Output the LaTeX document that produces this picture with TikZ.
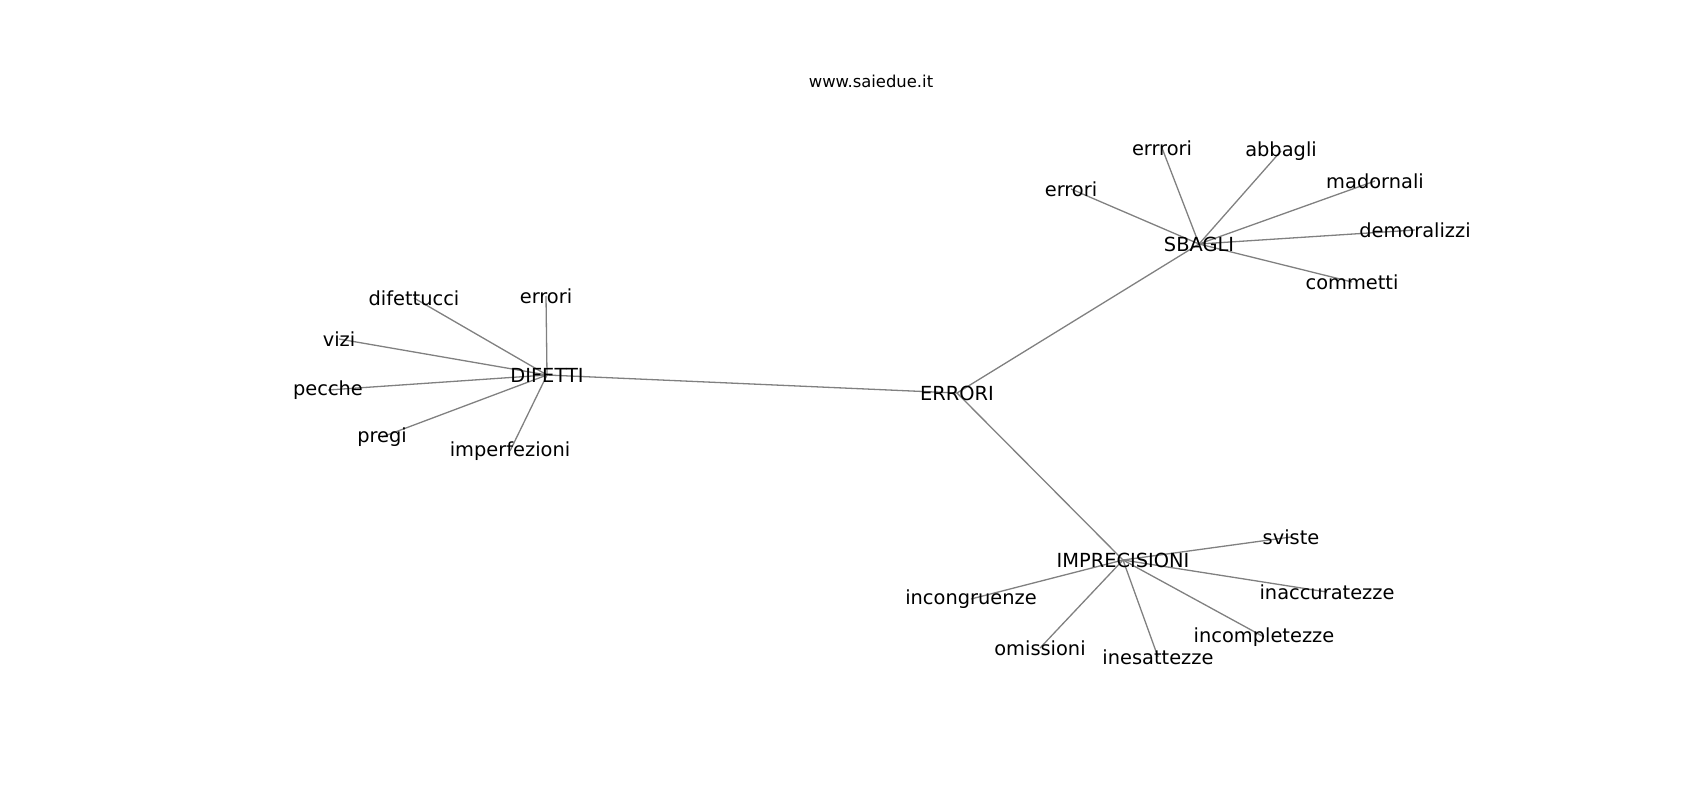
\documentclass[tikz,border=0pt]{standalone}
\usepackage{fontspec}
\setmainfont{DejaVu Sans}
\usetikzlibrary{backgrounds}

\begin{document}
\begin{tikzpicture}[x=1pt, y=-1pt, main/.style = {font=\fontsize{19.4}{22}\selectfont, inner sep=0pt}, edge/.style = {draw=gray, line width=1.3pt}]
    \useasboundingbox (0,0) rectangle (1700,800);

    \node[font=\fontsize{16.4}{19}\selectfont, inner sep=0pt] (title) at (871,81) {www.saiedue.it};

    \node[main] (errori) at (957,393) {ERRORI};
    \node[main] (difetti) at (547,375) {DIFETTI};
    \node[main] (sbagli) at (1199,244) {SBAGLI};
    \node[main] (imprecisioni) at (1123,560) {IMPRECISIONI};

    \node[main] (difettucci) at (414,298) {difettucci};
    \node[main] (erroriD) at (546,296) {errori};
    \node[main] (vizi) at (339,339) {vizi};
    \node[main] (pecche) at (328,390) {pecche};
    \node[main] (pregi) at (382,437) {pregi};
    \node[main] (imperfezioni) at (510,451) {imperfezioni};

    \node[main] (erroriS) at (1071,189) {errori};
    \node[main] (errrori) at (1162,148) {errrori};
    \node[main] (abbagli) at (1281,151) {abbagli};
    \node[main] (madornali) at (1375,181) {madornali};
    \node[main] (demoralizzi) at (1415,230) {demoralizzi};
    \node[main] (commetti) at (1352,282) {commetti};

    \node[main] (sviste) at (1291,537) {sviste};
    \node[main] (inaccuratezze) at (1327,592) {inaccuratezze};
    \node[main] (incompletezze) at (1264,637) {incompletezze};
    \node[main] (inesattezze) at (1158,657) {inesattezze};
    \node[main] (omissioni) at (1040,648) {omissioni};
    \node[main] (incongruenze) at (971,599) {incongruenze};

    \begin{scope}[on background layer]
    \draw[edge] (errori.center) -- (difetti.center);
    \draw[edge] (errori.center) -- (sbagli.center);
    \draw[edge] (errori.center) -- (imprecisioni.center);

    \draw[edge] (difetti.center) -- (difettucci.center);
    \draw[edge] (difetti.center) -- (erroriD.center);
    \draw[edge] (difetti.center) -- (vizi.center);
    \draw[edge] (difetti.center) -- (pecche.center);
    \draw[edge] (difetti.center) -- (pregi.center);
    \draw[edge] (difetti.center) -- (imperfezioni.center);

    \draw[edge] (sbagli.center) -- (erroriS.center);
    \draw[edge] (sbagli.center) -- (errrori.center);
    \draw[edge] (sbagli.center) -- (abbagli.center);
    \draw[edge] (sbagli.center) -- (madornali.center);
    \draw[edge] (sbagli.center) -- (demoralizzi.center);
    \draw[edge] (sbagli.center) -- (commetti.center);

    \draw[edge] (imprecisioni.center) -- (sviste.center);
    \draw[edge] (imprecisioni.center) -- (inaccuratezze.center);
    \draw[edge] (imprecisioni.center) -- (incompletezze.center);
    \draw[edge] (imprecisioni.center) -- (inesattezze.center);
    \draw[edge] (imprecisioni.center) -- (omissioni.center);
    \draw[edge] (imprecisioni.center) -- (incongruenze.center);
    \end{scope}

\end{tikzpicture}
\end{document}
